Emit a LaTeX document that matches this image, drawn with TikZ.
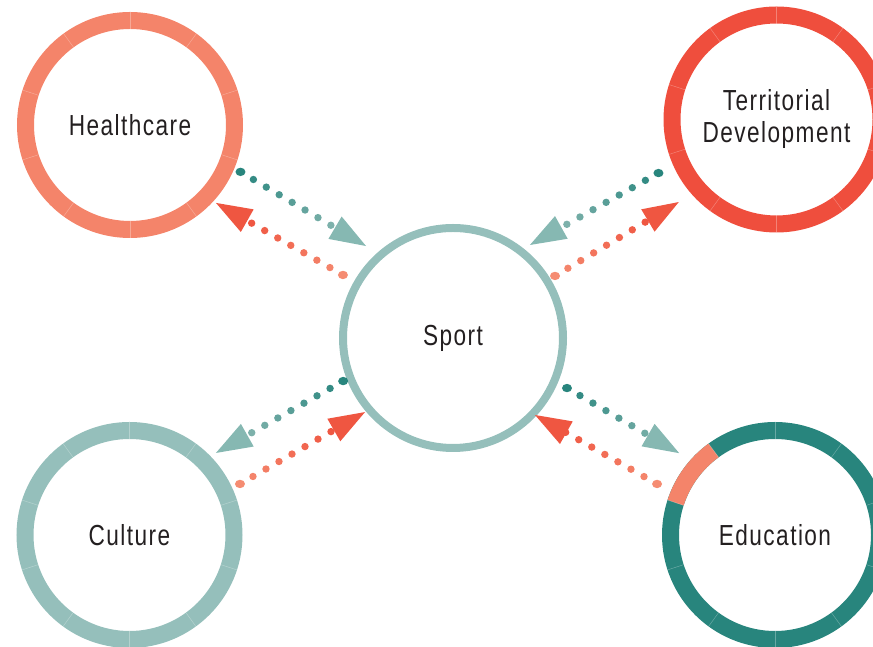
\documentclass[tikz,border=0pt]{standalone}
\usepackage{fontspec}
\setmainfont{Liberation Sans}[FakeStretch=0.78,LetterSpace=5]
\usetikzlibrary{calc}
\definecolor{salmon}{HTML}{F4846A}
\definecolor{tomato}{HTML}{EF4E3D}
\definecolor{sage}{HTML}{95BFBB}
\definecolor{pine}{HTML}{28857D}
\definecolor{ink}{HTML}{231F20}
\definecolor{pinelight}{HTML}{7FB2AC}
\definecolor{salmonlight}{HTML}{F58C72}
\definecolor{redhead}{HTML}{EF5641}
\definecolor{tealhead}{HTML}{86B8B2}
\tikzset{
  ring/.style={circle, draw=#1, line width=17pt, minimum size=209pt, inner sep=0pt,
    font=\fontsize{29}{32}\selectfont, text=ink, align=center},
  seam/.style={white, opacity=.3, line width=.5pt}
}
% dotted arrow: start, tip, first dot colour, last dot colour, head colour
\newcommand{\dotarrow}[5]{%
  \fill[#3] (#1) ellipse [x radius=5pt, y radius=4.2pt];
  \foreach \k [evaluate=\k as \pc using int(100-\k*14)] in {1,...,7}
    \fill[#3!\pc!#4] ($(#1)!\k*15pt!(#2)$) circle [radius=3.7pt];
  \fill[#5] (#2) -- ($($(#2)!36pt!(#1)$)!13pt!90:(#2)$)
                 -- ($($(#2)!36pt!(#1)$)!13pt!-90:(#2)$) -- cycle;
}

\begin{document}
\begin{tikzpicture}[x=1pt,y=1pt]
   \useasboundingbox (0,0) rectangle (873,647);
   \node[ring=salmon] (hc) at (130,522) {Healthcare};
   \node[ring=tomato] (td) at (776.5,527.5) {Territorial\\Development};
   \node[ring=sage] (cu) at (129.5,112) {Culture};
   \node[ring=pine] (ed) at (775,112) {Education};
   \node[ring=sage, line width=8pt, minimum size=220pt] (sp) at (453,309) {Sport};
   \draw[salmon, line width=17pt] ($(ed)+(126:104.5)$) arc[start angle=126, end angle=162, radius=104.5pt];
   \foreach \c in {hc,td,cu,ed}
     \foreach \a in {90,126,...,414}
       \draw[seam] ($(\c)+(\a:96)$) -- ($(\c)+(\a:113)$);
   % Healthcare <-> Sport
   \coordinate (hcS) at ($(hc)+(-23:120)$);
   \coordinate (hcT) at ($(sp)+(133.4:126.6)$);
   \coordinate (hcR) at ($(sp)+(150.2:126.8)$);
   \coordinate (hcH) at ($(hc)+(-42.2:116)$);
   \dotarrow{hcS}{hcT}{pine}{pinelight}{tealhead}
   \dotarrow{hcR}{hcH}{salmonlight}{redhead}{redhead}
   % Territorial <-> Sport
   \coordinate (tdS) at ($(td)+(204.4:129.6)$);
   \coordinate (tdT) at ($(sp)+(50.4:120.7)$);
   \coordinate (tdR) at ($(sp)+(31.3:119.4)$);
   \coordinate (tdH) at ($(td)+(220.2:127.9)$);
   \dotarrow{tdS}{tdT}{pine}{pinelight}{tealhead}
   \dotarrow{tdR}{tdH}{salmonlight}{redhead}{redhead}
   % Sport <-> Culture
   \coordinate (cuS) at ($(sp)+(201.4:118)$);
   \coordinate (cuT) at ($(cu)+(43.5:119.2)$);
   \coordinate (cuR) at ($(cu)+(24.8:121.7)$);
   \coordinate (cuH) at ($(sp)+(220.1:115)$);
   \dotarrow{cuS}{cuT}{pine}{pinelight}{tealhead}
   \dotarrow{cuR}{cuH}{salmonlight}{redhead}{redhead}
   % Sport <-> Education
   \coordinate (edS) at ($(sp)+(-23.7:124.5)$);
   \coordinate (edT) at ($(ed)+(139.5:126)$);
   \coordinate (edR) at ($(ed)+(156.6:128.5)$);
   \coordinate (edH) at ($(sp)+(-43.2:112.5)$);
   \dotarrow{edS}{edT}{pine}{pinelight}{tealhead}
   \dotarrow{edR}{edH}{salmonlight}{redhead}{redhead}
\end{tikzpicture}
\end{document}
